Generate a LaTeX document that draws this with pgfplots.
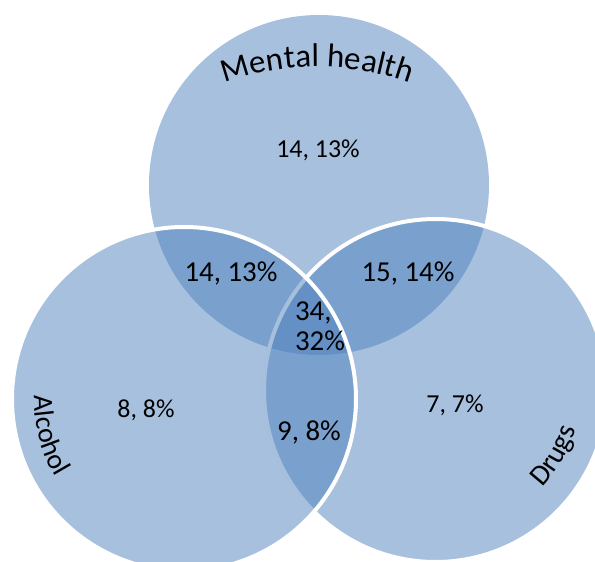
\documentclass[border=0pt]{standalone}
\usepackage{fontspec}
\setmainfont{Carlito}
\usepackage{pgfplots}
\pgfplotsset{compat=1.18}
\usetikzlibrary{decorations.text}
\definecolor{vblue}{HTML}{4F81BD}
\newcommand{\sfont}{\fontsize{26}{30}\selectfont}
\newcommand{\lfont}{\fontsize{29}{31}\selectfont}
\begin{document}
\begin{tikzpicture}
\begin{axis}[
  width=595bp, height=562bp, scale only axis,
  xmin=0, xmax=595, ymin=0, ymax=562, y dir=reverse,
  axis line style={draw=none}, ticks=none,
  clip=true,
]
% circles (Mental health, Drugs, Alcohol)
\fill[vblue, fill opacity=0.5] (axis cs:319,185) circle[radius=170];
\filldraw[fill=vblue, fill opacity=0.5, draw=white, line width=4bp] (axis cs:435.5,390.5) circle[radius=171.5];
\filldraw[fill=vblue, fill opacity=0.5, draw=white, line width=4bp] (axis cs:184,399) circle[radius=172];
% values
\node[font=\sfont] at (axis cs:318,150) {14, 13\%};
\node[font=\lfont] at (axis cs:231,273) {14, 13\%};
\node[font=\lfont] at (axis cs:408,273) {15, 14\%};
\node[font=\lfont, align=left, inner sep=0pt] at (axis cs:320,326) {34,\\[-1pt]32\%};
\node[font=\sfont] at (axis cs:146,410) {8, 8\%};
\node[font=\lfont] at (axis cs:309,432) {9, 8\%};
\node[font=\sfont] at (axis cs:455,405) {7, 7\%};
% set names
\path[decorate, decoration={text along path, text align=center,
  text={|\fontsize{33}{36}\selectfont|Mental health}}]
  (axis cs:225,83) .. controls (axis cs:284.6,61.5) and (axis cs:350.4,61.5) .. (axis cs:410,83);
\path[decorate, decoration={text along path, text align=center,
  text={|\fontsize{28}{30}\selectfont|Alcohol}}]
  (axis cs:43.05,347.7) .. controls (axis cs:21.5,406.96) and (axis cs:39.3,473.4) .. (axis cs:87.6,513.9);
\path[decorate, decoration={text along path, text align=center,
  text={|\fontsize{29}{31}\selectfont|Drugs}}]
  (axis cs:498.9,518.1) .. controls (axis cs:553.4,492.7) and (axis cs:586.2,435.9) .. (axis cs:580.96,376.0);
\end{axis}
\end{tikzpicture}
\end{document}
